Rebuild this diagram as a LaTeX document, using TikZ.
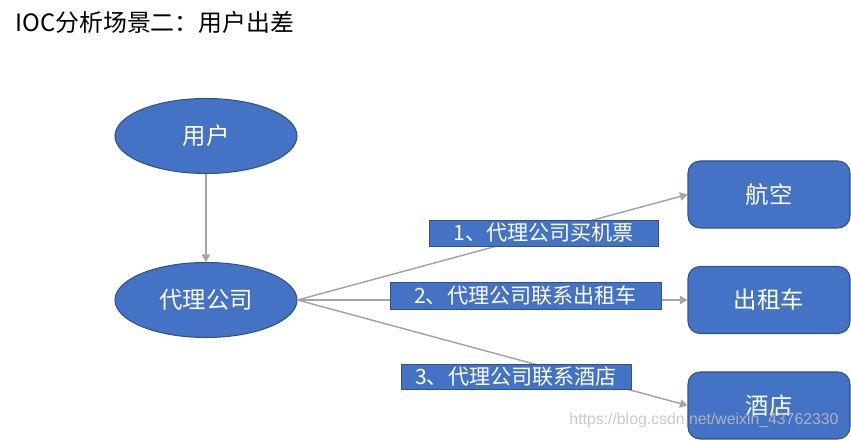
\documentclass[tikz,border=0pt]{standalone}
\usepackage{fontspec}
\setmainfont{Noto Sans CJK SC}
\newfontfamily\wmfont{Liberation Sans}
\usepackage{xcolor}
\usepackage{tikz}
\usetikzlibrary{shapes}
\usetikzlibrary{shapes.geometric}
\usetikzlibrary{arrows.meta}
\definecolor{ppblue}{HTML}{4472C4}
\definecolor{ppline}{HTML}{2F528F}
\definecolor{ppgray}{HTML}{A5A5A5}
\tikzset{
    ellnode/.style = {ellipse, draw=ppline, fill=ppblue, text=white, line width=0.6pt, inner sep=0pt, minimum width=36.4mm, minimum height=15mm, font=\fontsize{13.3}{15}\selectfont},
    boxnode/.style = {rectangle, rounded corners=2.4mm, draw=ppline, fill=ppblue, text=white, line width=0.6pt, inner sep=0pt, minimum width=32.4mm, minimum height=13.4mm, font=\fontsize{13.3}{15}\selectfont},
    labnode/.style = {rectangle, draw=ppline, fill=ppblue, text=white, line width=0.5pt, inner sep=0pt, font=\fontsize{12}{14}\selectfont},
}

\begin{document}
\begin{tikzpicture}[
	x=0.2mm, y=-0.2mm,
	edgen/.style = {-{Triangle[length=1.5mm,width=1.7mm]}, ppgray, line width=0.85pt}
]
\useasboundingbox (0,0) rectangle (851,440);
\node[anchor=west, inner sep=0pt, font=\fontsize{13.6}{16}\selectfont] at (15,22) (title) {IOC分析场景二：用户出差};
%
\node[ellnode] at (206,136) (yh) {用户};
\node[ellnode] at (206,300) (dl) {代理公司};
%
\node[boxnode] at (769,194.5) (hk) {航空};
\node[boxnode] at (769,300) (czc) {出租车};
\node[boxnode] at (769,405.5) (jd) {酒店};
%
\draw[edgen] (yh) -- (dl);
\draw[edgen] (dl.east) -- (hk.west);
\draw[edgen] (dl.east) -- (czc.west);
\draw[edgen] (dl.east) -- (jd.west);
%
\node[labnode, minimum width=45.8mm, minimum height=5.2mm] at (543.5,233) (l1) {1、代理公司买机票};
\node[labnode, minimum width=54.2mm, minimum height=5.4mm] at (525.5,295.5) (l2) {2、代理公司联系出租车};
\node[labnode, minimum width=46mm, minimum height=5mm] at (516,376.5) (l3) {3、代理公司联系酒店};
%
\node[font=\wmfont\fontsize{9}{10}\selectfont, text=black!25, opacity=0.85] at (704,420) (wm) {https://blog.csdn.net/weixin\_43762330};
\end{tikzpicture}
\end{document}
